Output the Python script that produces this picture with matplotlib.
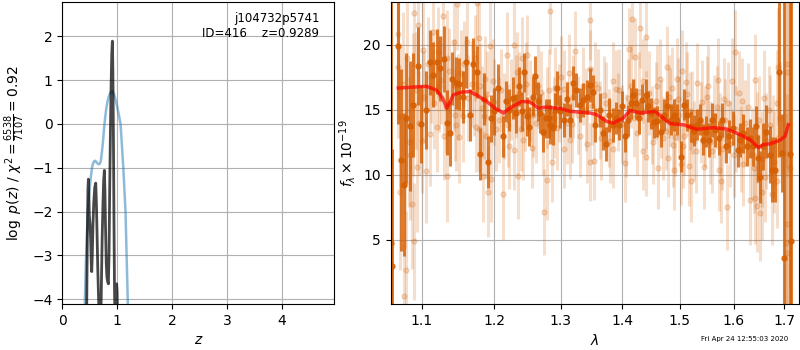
import numpy as np
import matplotlib
matplotlib.use("Agg")
import matplotlib.pyplot as plt
from matplotlib.ticker import NullLocator, FixedLocator

# ---------------- data: p(z) panel ----------------
pz_z = [0.430, 0.444, 0.455, 0.466, 0.474, 0.482, 0.492, 0.505, 0.515, 0.527,
        0.535, 0.545, 0.558, 0.572, 0.590, 0.608, 0.620, 0.632, 0.645, 0.658,
        0.668, 0.685, 0.700, 0.712, 0.725, 0.740, 0.752, 0.765, 0.775, 0.787,
        0.800, 0.812, 0.825, 0.838, 0.850, 0.862, 0.875, 0.888, 0.900, 0.911,
        0.920, 0.930, 0.940, 0.950, 0.960, 0.972, 0.980, 0.988, 0.996, 1.005,
        1.020]
pz_logp = [-5.5, -4.15, -2.6, -1.5, -1.26, -1.6, -2.1, -2.3, -2.6, -3.2,
           -3.37, -3.0, -2.3, -1.8, -1.45, -1.35, -1.8, -2.5, -3.3, -3.9,
           -4.3, -5.0, -4.6, -3.6, -2.6, -1.8, -1.3, -1.06, -1.5, -2.4,
           -3.2, -3.5, -3.6, -3.65, -3.0, -1.5, -0.2, 0.9, 1.6, 1.89,
           1.2, -0.3, -2.2, -3.8, -4.6, -4.5, -3.9, -3.65, -3.8, -4.4,
           -5.5]

chi_z = [0.40, 0.41, 0.43, 0.46, 0.48, 0.50, 0.52, 0.54, 0.56, 0.58,
         0.60, 0.62, 0.64, 0.66, 0.68, 0.70, 0.72, 0.74, 0.76, 0.78,
         0.80, 0.82, 0.84, 0.86, 0.88, 0.90, 0.92, 0.94, 0.96, 0.98,
         1.00, 1.03, 1.06, 1.09, 1.11, 1.13, 1.15, 1.17, 1.19, 1.21]
chi_val = [-5.5, -4.1, -3.1, -2.1, -1.7, -1.45, -1.2, -1.0, -0.9, -0.85,
           -0.84, -0.87, -0.9, -0.92, -0.91, -0.85, -0.65, -0.4, -0.1, 0.15,
           0.35, 0.5, 0.6, 0.68, 0.72, 0.74, 0.74, 0.68, 0.6, 0.5,
           0.38, 0.2, 0.0, -0.6, -1.0, -1.5, -2.0, -3.0, -4.0, -5.0]

# ---------------- data: spectrum panel ----------------
dark_wave = [1.0600, 1.0613, 1.0687, 1.0735, 1.0767, 1.0799, 1.0846, 1.0883, 1.0953, 1.0990,
             1.1060, 1.1106, 1.1154, 1.1200, 1.1246, 1.1302, 1.1339, 1.1385, 1.1409, 1.1465,
             1.1511, 1.1559, 1.1605, 1.1651, 1.1698, 1.1758, 1.1804, 1.1852, 1.1916, 1.1954,
             1.2000, 1.2059, 1.2125, 1.2174, 1.2223, 1.2273, 1.2322, 1.2371, 1.2406, 1.2445,
             1.2485, 1.2519, 1.2570, 1.2608, 1.2644, 1.2682, 1.2733, 1.2767, 1.2816, 1.2841,
             1.2875, 1.2905, 1.2941, 1.2990, 1.3053, 1.3106, 1.3150, 1.3193, 1.3247, 1.3300,
             1.3355, 1.3419, 1.3461, 1.3516, 1.3553, 1.3622, 1.3677, 1.3726, 1.3784, 1.3839,
             1.3892, 1.3945, 1.3994, 1.4046, 1.4088, 1.4141, 1.4187, 1.4235, 1.4276, 1.4336,
             1.4394, 1.4435, 1.4482, 1.4541, 1.4601, 1.4671, 1.4717, 1.4777, 1.4836, 1.4894,
             1.4942, 1.5013, 1.5074, 1.5136, 1.5197, 1.5258, 1.5307, 1.5368, 1.5430, 1.5485,
             1.5533, 1.5596, 1.5656, 1.5717, 1.5779, 1.5858, 1.5919, 1.5982, 1.6080, 1.6125,
             1.6191, 1.6258, 1.6310, 1.6378, 1.6443, 1.6477, 1.6509, 1.6577, 1.6642, 1.6708,
             1.6756, 1.6821, 1.6907, 1.6954, 1.7006, 1.7123, 1.7137]
dark_flux = [4.8, 3.0, 19.87, 11.15, 9.23, 14.36, 13.77, 15.38, 18.33, 13.9,
             15.0, 18.64, 17.7, 18.7, 18.2, 18.9, 14.0, 13.2, 17.4, 17.05,
             17.0, 16.0, 18.7, 14.6, 18.5, 17.9, 11.6, 15.8, 11.0, 14.36,
             14.87, 16.7, 12.95, 15.64, 15.0, 15.9, 14.74, 16.8, 14.87, 17.87,
             14.5, 13.7, 16.0, 17.6, 15.64, 14.74, 13.26, 14.36, 14.36, 13.85,
             13.6, 15.0, 16.67, 14.87, 14.2, 15.82, 14.18, 17.05, 16.54, 15.38,
             15.77, 16.0, 16.92, 16.4, 13.85, 15.0, 13.2, 12.4, 14.6, 13.85,
             14.36, 13.85, 15.26, 12.95, 14.18, 15.5, 16.15, 15.5, 14.36, 15.77,
             16.15, 15.26, 14.74, 14.03, 14.1, 13.33, 14.6, 15.26, 14.23, 14.6,
             14.23, 11.4, 15.38, 14.6, 13.72, 13.4, 13.85, 14.23, 12.7, 13.33,
             12.7, 14.23, 13.46, 12.8, 14.23, 12.18, 12.95, 13.6, 11.9, 12.7,
             13.2, 12.18, 12.82, 12.18, 13.72, 11.28, 9.87, 12.18, 13.33, 11.54,
             10.4, 10.4, 17.9, 11.67, 3.6, 11.6, 4.95]
dark_err = [20, 9, 6, 7, 5.5, 5, 5, 4, 3, 3,
            3, 2.5, 2.5, 2.5, 2.5, 2.5, 2.5, 2.5, 2, 2,
            2, 2, 2, 2, 2, 2, 2, 2, 2, 1.8,
            1.8, 1.8, 1.6, 1.6, 1.6, 1.6, 1.5, 1.5, 1.5, 1.5,
            1.5, 1.5, 1.5, 1.5, 1.5, 1.5, 1.5, 1.5, 1.5, 1.5,
            1.3, 1.3, 1.3, 1.3, 1.3, 1.3, 1.3, 1.3, 1.3, 1.3,
            1.3, 1.3, 1.3, 1.3, 1.3, 1.3, 1.3, 1.3, 1.3, 1.3,
            1.2, 1.2, 1.2, 1.2, 1.2, 1.2, 1.2, 1.2, 1.2, 1.2,
            1.2, 1.2, 1.2, 1.2, 1.2, 1.2, 1.2, 1.2, 1.2, 1.2,
            1.2, 1.2, 1.2, 1.2, 1.2, 1.2, 1.2, 1.2, 1.2, 1.2,
            1.3, 1.3, 1.3, 1.3, 1.3, 1.3, 1.3, 1.3, 1.3, 1.3,
            1.5, 1.5, 1.5, 1.5, 1.6, 1.8, 2.0, 1.8, 2.0, 2.2,
            2.5, 2.5, 6.5, 3.0, 25, 30, 30]

light_wave = [1.0687, 1.0690, 1.0711, 1.0767, 1.0781, 1.0791, 1.0830, 1.0869, 1.0883, 1.0897,
              1.0900, 1.0939, 1.0953, 1.1000, 1.1022, 1.1030, 1.1060, 1.1106, 1.1130, 1.1148,
              1.1209, 1.1223, 1.1230, 1.1279, 1.1330, 1.1339, 1.1342, 1.1430, 1.1441, 1.1444,
              1.1465, 1.1479, 1.1503, 1.1530, 1.1559, 1.1619, 1.1630, 1.1720, 1.1744, 1.1758,
              1.1777, 1.1786, 1.1820, 1.1838, 1.1860, 1.1870, 1.1900, 1.1916, 1.1944, 1.1954,
              1.2000, 1.2070, 1.2134, 1.2150, 1.2184, 1.2223, 1.2250, 1.2288, 1.2297, 1.2337,
              1.2356, 1.2360, 1.2406, 1.2421, 1.2450, 1.2485, 1.2530, 1.2555, 1.2620, 1.2700,
              1.2742, 1.2780, 1.2782, 1.2841, 1.2866, 1.2890, 1.2915, 1.2980, 1.3050, 1.3058,
              1.3123, 1.3150, 1.3180, 1.3219, 1.3280, 1.3360, 1.3419, 1.3461, 1.3465, 1.3472,
              1.3500, 1.3537, 1.3590, 1.3620, 1.3700, 1.3770, 1.3839, 1.3842, 1.3892, 1.3920,
              1.4000, 1.4041, 1.4100, 1.4117, 1.4170, 1.4200, 1.4217, 1.4280, 1.4306, 1.4346,
              1.4394, 1.4397, 1.4400, 1.4500, 1.4570, 1.4618, 1.4647, 1.4660, 1.4750, 1.4765,
              1.4788, 1.4830, 1.4853, 1.4894, 1.4920, 1.4942, 1.4980, 1.5013, 1.5044, 1.5080,
              1.5105, 1.5165, 1.5180, 1.5197, 1.5260, 1.5320, 1.5380, 1.5441, 1.5470, 1.5504,
              1.5560, 1.5630, 1.5698, 1.5717, 1.5740, 1.5766, 1.5809, 1.5840, 1.5882, 1.5940,
              1.5963, 1.6026, 1.6050, 1.6140, 1.6159, 1.6220, 1.6324, 1.6360, 1.6410, 1.6412,
              1.6456, 1.6460, 1.6522, 1.6556, 1.6560, 1.6588, 1.6640, 1.6720, 1.6755, 1.6800,
              1.6866, 1.6886, 1.6920, 1.7035, 1.7055, 1.7057, 1.7068, 1.7070, 1.7123,
              1.0720, 1.0750, 1.0810, 1.0850, 1.0920, 1.0970, 1.1080, 1.1170, 1.1260, 1.1300,
              1.1370, 1.1490, 1.1580, 1.1680, 1.1730, 1.1800, 1.1880, 1.1980, 1.2030, 1.2100,
              1.2200, 1.2320, 1.2390, 1.2470, 1.2580, 1.2650, 1.2730, 1.2820, 1.2940, 1.3010,
              1.3100, 1.3200, 1.3300, 1.3400, 1.3550, 1.3650, 1.3730, 1.3800, 1.3950, 1.4060,
              1.4150, 1.4250, 1.4350, 1.4450, 1.4530, 1.4600, 1.4700, 1.4800, 1.4870, 1.4960,
              1.5050, 1.5130, 1.5230, 1.5300, 1.5400, 1.5520, 1.5600, 1.5680, 1.5780, 1.5900,
              1.6000, 1.6100, 1.6180, 1.6280, 1.6400, 1.6500, 1.6620, 1.6690, 1.6780, 1.6850]
light_flux = [20.8, 18.3, 8.7, 0.7, 9.4, 2.7, 12.5, 7.8, 15.4, 22.4,
              4.9, 10.6, 21.5, 12.6, 19.6, 16.0, 10.3, 13.15, 17.5, 21.0,
              13.7, 19.4, 16.8, 22.2, 15.2, 19.0, 9.9, 16.9, 20.2, 14.6,
              13.8, 23.1, 12.9, 17.8, 14.5, 20.2, 15.9, 16.3, 13.7, 23.2,
              20.5, 13.5, 15.1, 9.9, 14.5, 17.4, 16.2, 8.7, 19.9, 9.7,
              15.6, 14.2, 8.5, 14.5, 19.2, 12.2, 15.8, 20.0, 11.9, 17.9,
              9.9, 16.3, 19.0, 12.7, 14.9, 19.2, 15.7, 12.1, 14.0, 16.4,
              7.15, 15.2, 9.6, 22.6, 11.0, 14.4, 16.7, 15.5, 16.6, 12.0,
              17.8, 12.7, 13.9, 19.5, 14.6, 16.8, 12.4, 21.9, 18.1, 11.0,
              15.3, 11.1, 16.7, 14.2, 16.1, 13.6, 17.2, 12.0, 16.6, 14.8,
              13.9, 10.9, 15.9, 19.7, 22.0, 14.4, 19.05, 16.4, 21.3, 11.8,
              20.6, 11.4, 15.0, 13.8, 15.7, 10.5, 17.4, 14.3, 13.4, 18.3,
              11.3, 15.2, 16.7, 10.4, 12.9, 17.4, 14.6, 10.8, 18.0, 13.0,
              17.1, 10.7, 14.9, 9.5, 12.6, 17.05, 14.0, 10.6, 13.7, 16.0,
              12.5, 14.5, 17.3, 10.4, 13.1, 9.5, 15.8, 14.2, 7.5, 12.4,
              17.2, 19.4, 13.5, 12.0, 15.7, 14.0, 8.1, 11.6, 17.3, 8.2,
              7.6, 12.9, 7.05, 8.7, 11.2, 15.9, 12.6, 13.8, 8.5, 11.0,
              15.5, 18.3, 14.4, 4.74, 4.0, 6.2, 18.5, 17.9, 10.5,
              14.5, 17.0, 19.0, 11.5, 16.5, 14.0, 18.5, 15.5, 17.3, 13.0,
              18.0, 16.0, 18.5, 17.0, 19.0, 16.8, 13.0, 17.2, 13.5, 16.5,
              13.8, 16.0, 13.5, 17.0, 14.6, 16.8, 13.2, 16.5, 13.6, 17.5,
              14.0, 16.0, 13.0, 15.0, 17.0, 12.8, 15.5, 12.6, 16.5, 13.0,
              16.8, 13.2, 17.2, 16.3, 12.5, 16.8, 12.8, 16.0, 12.3, 15.8,
              12.2, 16.2, 14.8, 11.8, 15.6, 16.8, 11.8, 15.2, 12.0, 15.5,
              11.5, 16.3, 10.8, 15.2, 10.5, 14.2, 9.8, 15.0, 12.5, 9.5]
light_err = [5.0, 5.5, 6.0, 4.0, 5.0, 4.5, 5.0, 5.0, 5.5, 4.0,
             4.5, 5.0, 4.0, 4.0, 4.0, 3.5, 4.0, 4.0, 3.5, 3.5,
             3.5, 3.5, 3.5, 3.5, 3.5, 3.7, 3.5, 3.5, 3.5, 3.5,
             3.5, 3.5, 3.5, 3.3, 3.5, 3.5, 3.3, 3.3, 3.5, 3.5,
             3.5, 3.3, 3.3, 3.5, 3.3, 3.3, 3.3, 3.5, 3.5, 3.3,
             3.3, 3.3, 3.5, 3.3, 3.3, 3.3, 3.1, 3.3, 3.1, 3.1,
             3.3, 3.1, 3.1, 3.1, 3.1, 3.1, 3.1, 3.1, 3.1, 3.1,
             3.3, 3.1, 3.1, 3.3, 3.1, 3.1, 3.1, 3.0, 3.0, 3.0,
             3.0, 3.0, 3.0, 3.1, 3.0, 3.0, 3.0, 3.1, 3.0, 3.0,
             3.0, 3.0, 3.0, 3.0, 3.0, 3.0, 3.0, 3.0, 3.0, 3.0,
             3.0, 3.0, 3.0, 3.1, 3.1, 3.0, 3.0, 3.0, 3.1, 3.0,
             3.1, 3.0, 3.0, 3.0, 3.0, 3.1, 3.0, 3.0, 3.0, 3.1,
             3.0, 3.0, 3.1, 3.1, 3.0, 3.1, 3.0, 3.1, 3.1, 3.0,
             3.1, 3.1, 3.0, 3.1, 3.1, 3.1, 3.1, 3.2, 3.1, 3.1,
             3.2, 3.2, 3.2, 3.2, 3.2, 3.2, 3.2, 3.2, 3.3, 3.3,
             3.3, 3.3, 3.3, 3.3, 3.3, 3.3, 3.5, 3.5, 3.5, 3.5,
             3.5, 3.5, 3.7, 3.7, 3.7, 3.7, 3.7, 3.9, 3.9, 3.9,
             4.1, 4.5, 4.3, 10.0, 10.0, 10.0, 8.0, 8.0, 9.0,
             5.5, 5.5, 5.0, 5.0, 4.5, 4.0, 3.6, 3.5, 3.4, 3.4,
             3.3, 3.3, 3.3, 3.3, 3.3, 3.3, 3.3, 3.2, 3.2, 3.2,
             3.2, 3.2, 3.2, 3.2, 3.2, 3.2, 3.2, 3.2, 3.2, 3.2,
             3.2, 3.2, 3.2, 3.2, 3.2, 3.2, 3.2, 3.2, 3.2, 3.2,
             3.2, 3.2, 3.2, 3.2, 3.2, 3.2, 3.2, 3.2, 3.2, 3.2,
             3.2, 3.2, 3.2, 3.2, 3.2, 3.2, 3.2, 3.2, 3.2, 3.2,
             3.2, 3.2, 3.2, 3.4, 3.4, 3.4, 3.4, 3.4, 3.6, 3.6]

model_wave = [1.0695, 1.0800, 1.0900, 1.1066, 1.1200, 1.1280, 1.1336, 1.1380, 1.1426, 1.1540,
              1.1658, 1.1760, 1.1893, 1.2020, 1.2134, 1.2250, 1.2405, 1.2529, 1.2655, 1.2780,
              1.3000, 1.3146, 1.3466, 1.3575, 1.3740, 1.3850, 1.4016, 1.4130, 1.4300, 1.4560,
              1.4826, 1.5064, 1.5307, 1.5617, 1.5871, 1.6063, 1.6322, 1.6486, 1.6585, 1.6718,
              1.6921, 1.7023, 1.7090]
model_flux = [16.67, 16.70, 16.75, 16.80, 16.50, 15.90, 15.13, 15.60, 16.15, 16.35,
              16.40, 16.10, 15.64, 15.10, 14.75, 15.20, 15.64, 15.60, 15.13, 15.20,
              15.10, 14.88, 14.75, 14.62, 14.10, 13.98, 14.36, 14.95, 14.75, 14.88,
              13.93, 13.85, 13.50, 13.63, 13.52, 13.20, 12.70, 12.10, 12.33, 12.38,
              12.67, 12.97, 13.85]

lam_ticks = [1.1, 1.2, 1.3, 1.4, 1.5, 1.6, 1.7]
lam_tick_labels = ['1.1', '1.2', '1.3', '1.4', '1.5', '1.6', '1.7']
flux_ticks = [5, 10, 15, 20]
z_ticks = [0, 1, 2, 3, 4]
logp_ticks = [-4, -3, -2, -1, 0, 1, 2]

root = 'j104732p5741'
obj_id = 416
z_best = 0.9289
chi2_num, chi2_den = 6538, 7107
timestamp = 'Fri Apr 24 12:55:03 2020'

grism_color = (0.8352941176470589, 0.3686274509803922, 0.0)

# ---------------- figure ----------------
fig = plt.figure(figsize=(8, 3.5), dpi=100)

ax1 = fig.add_axes([0.0779, 0.1314, 0.340, 0.8637])
ax1.plot(chi_z, chi_val, color='#1f77b4', alpha=0.5, lw=1.8, zorder=2)
ax1.plot(pz_z, pz_logp, color='k', alpha=0.72, lw=2.0, zorder=3)
pzmax = max(pz_logp)
ax1.set_ylim(pzmax - 6, pzmax + 0.9)
ax1.set_xlim(0, 4.95)
ax1.set_xticks(z_ticks)
ax1.set_yticks(logp_ticks)
ax1.grid(True, color='#b0b0b0', lw=0.8)
ax1.set_axisbelow(True)
ax1.set_xlabel('$z$')
ax1.set_ylabel(r'$\log\ p(z)$' + ' / ' +
               r'$\chi^2=\frac{%d}{%d}=%.2f$' % (chi2_num, chi2_den, chi2_num / chi2_den))
ax1.text(0.945, 0.965, '%s\nID=%d    z=%.4f' % (root, obj_id, z_best),
         transform=ax1.transAxes, ha='right', va='top', fontsize=8.5)

ax2 = fig.add_axes([0.4884, 0.1314, 0.5108, 0.8637])
ax2.errorbar(light_wave, light_flux, yerr=light_err, color=grism_color, alpha=0.2,
             marker='o', markersize=3.6, linestyle='None', elinewidth=2.2, zorder=1)
ax2.errorbar(dark_wave, dark_flux, yerr=dark_err, color=grism_color, alpha=0.8,
             marker='o', markersize=3.6, linestyle='None', elinewidth=2.2, zorder=2)
ax2.plot(model_wave, model_flux, color='r', alpha=0.7, lw=2.5, zorder=3)
ax2.set_xscale('log')
ax2.set_xlim(1.0598, 1.7317)
ax2.xaxis.set_major_locator(FixedLocator(lam_ticks))
ax2.set_xticklabels(lam_tick_labels)
ax2.xaxis.set_minor_locator(NullLocator())
ax2.set_ylim(0.08, 23.3)
ax2.set_yticks(flux_ticks)
ax2.grid(True, color='#b0b0b0', lw=0.8)
ax2.set_axisbelow(True)
ax2.set_xlabel(r'$\lambda$')
ax2.set_ylabel(r'$f_\lambda\times10^{-19}$')

fig.text(0.985, 0.03, timestamp, ha='right', va='center', fontsize=5)

fig.savefig('out.png', dpi=100)
